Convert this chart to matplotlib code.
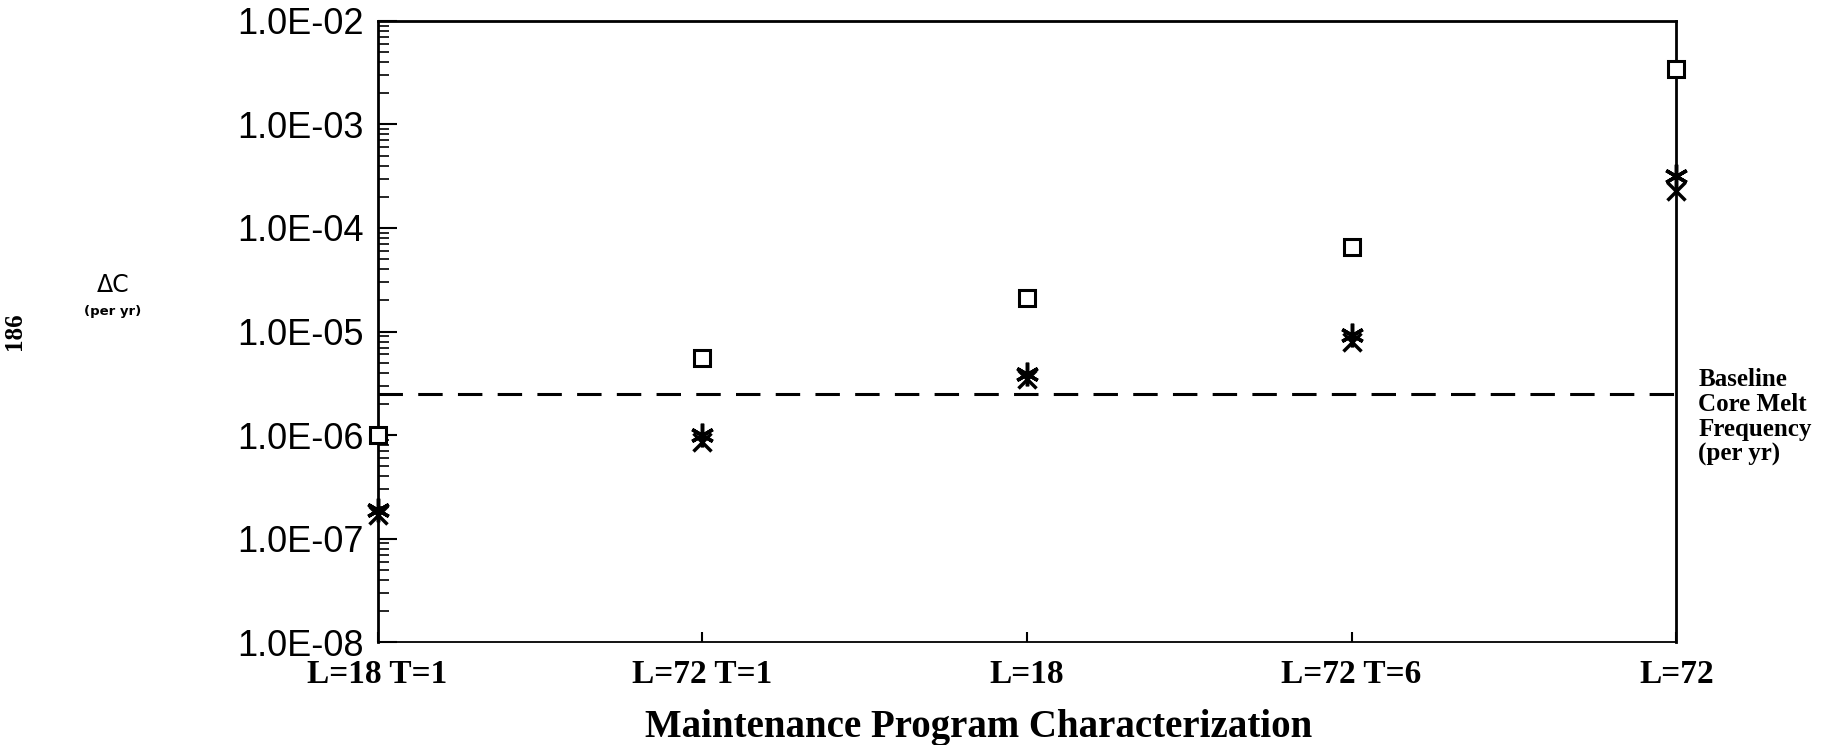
import numpy as np
import matplotlib
matplotlib.use("Agg")
import matplotlib.pyplot as plt
from matplotlib.ticker import LogLocator, NullFormatter, FixedLocator

# Datos
programas = ["L=18 T=1", "L=72 T=1", "L=18", "L=72 T=6", "L=72"]
delta_c_cuadrado = [1.0e-6, 5.6e-6, 2.1e-5, 6.5e-5, 3.4e-3]
delta_c_asterisco = [1.9e-7, 1.0e-6, 3.9e-6, 9.2e-6, 3.2e-4]
delta_c_aspa = [1.7e-7, 8.5e-7, 3.5e-6, 8.0e-6, 2.3e-4]
frecuencia_base = 2.5e-6
etiquetas_y = ["1.0E-08", "1.0E-07", "1.0E-06", "1.0E-05", "1.0E-04", "1.0E-03", "1.0E-02"]
valores_y = [1e-8, 1e-7, 1e-6, 1e-5, 1e-4, 1e-3, 1e-2]

fig = plt.figure(figsize=(18.24, 7.45), dpi=100)
ax = fig.add_axes([0.207, 0.138, 0.712, 0.834])

x = np.arange(len(programas))

ax.plot(x, delta_c_cuadrado, linestyle="none", marker="s", markersize=12,
        markerfacecolor="white", markeredgecolor="black", markeredgewidth=2.2, clip_on=False, zorder=3)
ax.plot(x, delta_c_asterisco, linestyle="none", marker=(6, 2, 0), markersize=17,
        markeredgecolor="black", markeredgewidth=2.5, clip_on=False, zorder=3)
ax.plot(x, delta_c_aspa, linestyle="none", marker="x", markersize=13,
        markeredgecolor="black", markeredgewidth=2.5, clip_on=False, zorder=3)

# Linea de referencia
ax.axhline(frecuencia_base, color="black", linewidth=2.2, linestyle=(0, (8, 5)))

ax.set_yscale("log")
ax.set_ylim(1e-8, 1e-2)
ax.set_xlim(0, len(programas) - 1)

ax.yaxis.set_major_locator(FixedLocator(valores_y))
ax.set_yticklabels(etiquetas_y, fontsize=26, family="Liberation Sans")
ax.yaxis.set_minor_locator(LogLocator(base=10, subs=np.arange(2, 10)))
ax.yaxis.set_minor_formatter(NullFormatter())
ax.tick_params(axis="y", which="major", direction="in", length=14, width=1.5, pad=10)
ax.tick_params(axis="y", which="minor", direction="in", length=8, width=1.2)

ax.set_xticks(x)
ax.set_xticklabels(programas, fontsize=24, family="Liberation Serif", weight="bold")
ax.tick_params(axis="x", which="major", direction="in", length=7, width=1.5, pad=12)

for lado in ["left", "right", "top", "bottom"]:
    ax.spines[lado].set_linewidth(2)
ax.spines["bottom"].set_linewidth(1.3)

ax.set_xlabel("Maintenance Program Characterization", fontsize=28,
              family="Liberation Serif", weight="bold", labelpad=14)
ax.xaxis.label.set_x(0.463)

# Textos a los lados
fig.text(0.062, 0.617, "\u0394C", fontsize=17, family="DejaVu Sans", ha="center", va="center")
fig.text(0.062, 0.582, "(per yr)", fontsize=9.5, family="DejaVu Sans", weight="bold",
         ha="center", va="center")
fig.text(0.008, 0.555, "186", fontsize=18, family="Liberation Serif", weight="bold",
         rotation=90, ha="center", va="center")
fig.text(0.931, 0.44, "Baseline\nCore Melt\nFrequency\n(per yr)", fontsize=18,
         family="Liberation Serif", weight="bold", ha="left", va="center", linespacing=1.1)

fig.savefig("out.png", dpi=100)
